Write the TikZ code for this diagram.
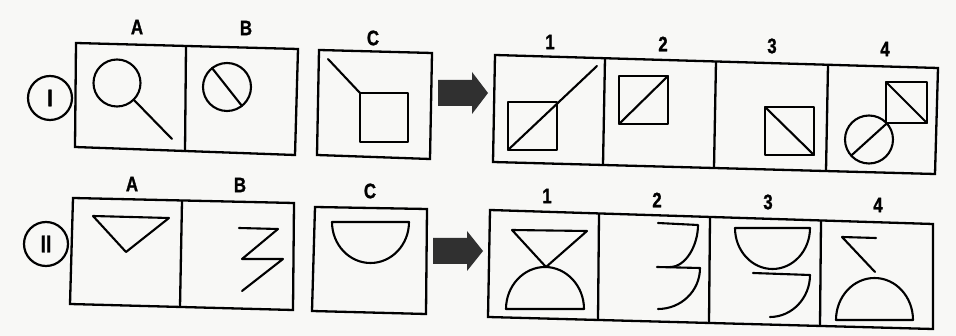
\documentclass[tikz,border=0pt]{standalone}
\usepackage{fontspec}
\newfontfamily\labfont[FakeStretch=0.8, BoldFeatures={FakeStretch=0.8, FakeBold=1.2}]{Liberation Sans}
\definecolor{paper}{RGB}{248,248,246}
\definecolor{arrowgray}{RGB}{48,48,48}
\begin{document}
\begin{tikzpicture}[x=1pt,y=-1pt,
  fig/.style={line width=2.1pt, line join=round, line cap=round},
  frame/.style={line width=2.3pt, line join=miter},
  lab/.style={font=\labfont\bfseries\fontsize{21}{21}\selectfont, inner sep=0pt},
  numcirc/.style={circle, draw, line width=2.2pt, minimum size=44pt, inner sep=0pt,
     font=\labfont\bfseries\fontsize{24}{24}\selectfont},
  bigarrow/.style={fill=arrowgray, draw=none}]
\fill[paper] (0,0) rectangle (956,336);
\useasboundingbox (0,0) rectangle (956,336);

% ---------- Row I ----------
\node[numcirc] (rI) at (50,98) {I};
\draw[frame] (76,43) -- (298,49) -- (295,155) -- (75,147) -- cycle;
\draw[frame] (186,46) -- (185,152);
\draw[frame] (319,50) -- (432,53) -- (430,159) -- (317,155) -- cycle;
\draw[frame] (495,55) -- (938,68) -- (935,174) -- (493,162) -- cycle;
\draw[frame] (605,58) -- (603,165);
\draw[frame] (716,61.5) -- (714,168);
\draw[frame] (828,65) -- (826,171);

\node[lab] (IA) at (137,27) {A};
\node[lab] (IB) at (246,28) {B};
\node[lab] (IC) at (373,38) {C};
\node[lab] (I1) at (550,42) {1};
\node[lab] (I2) at (663,44) {2};
\node[lab] (I3) at (772,46) {3};
\node[lab] (I4) at (885,49) {4};

% A
\draw[fig] (117,83) circle[radius=23.5];
\draw[fig] (133.6,99.6) -- (172,139);
% B
\draw[fig] (227,87) circle[radius=24];
\draw[fig] (212,68) -- (242,106);
% C
\draw[fig] (328,59) -- (360,93);
\draw[fig] (360,93) rectangle (408,142);
% arrow
\fill[bigarrow] (438,80) -- (472,80) -- (472,72) -- (488,93) -- (472,114) -- (472,106) -- (438,106) -- cycle;
% 1
\draw[fig] (508,102) rectangle (557,150);
\draw[fig] (508,150) -- (597,66);
% 2
\draw[fig] (619,76) rectangle (668,124);
\draw[fig] (619,124) -- (668,76);
% 3
\draw[fig] (765,107) rectangle (814,155);
\draw[fig] (765,107) -- (814,155);
% 4
\draw[fig] (886,82) rectangle (927,123);
\draw[fig] (886,82) -- (927,123);
\draw[fig] (869,139.5) circle[radius=24];
\draw[fig] (851.2,155.6) -- (886.8,123.4);

% ---------- Row II ----------
\node[numcirc] (rII) at (46,244) {II};
\draw[frame] (73,198) -- (294,203) -- (293,310) -- (70,304) -- cycle;
\draw[frame] (182,201) -- (180,307);
\draw[frame] (315,207) -- (427,209) -- (426,314) -- (312,311) -- cycle;
\draw[frame] (490,210) -- (933,224) -- (933,329) -- (488,317) -- cycle;
\draw[frame] (599,214) -- (598,320);
\draw[frame] (710,217) -- (709,323);
\draw[frame] (821,221) -- (820,326);

\node[lab] (IIA) at (132,184) {A};
\node[lab] (IIB) at (240,185) {B};
\node[lab] (IIC) at (370,191) {C};
\node[lab] (II1) at (547,196) {1};
\node[lab] (II2) at (657,200) {2};
\node[lab] (II3) at (768,202) {3};
\node[lab] (II4) at (878,205) {4};

% A
\draw[fig] (93,216) -- (169,218) -- (126,252) -- cycle;
% B
\draw[fig] (239,228) -- (278,229) -- (242,259) -- (283,259) -- (242,291);
% C
\draw[fig] (332,222) -- (409,222) .. controls +(0,22.6) and +(21.3,0) .. (370.5,263)
   .. controls +(-21.3,0) and +(0,22.6) .. (332,222) -- cycle;
% arrow
\fill[bigarrow] (433,238) -- (467,238) -- (467,231) -- (483,251) -- (467,271) -- (467,264) -- (433,264) -- cycle;
% 1
\draw[fig] (512,230) -- (587,231) -- (546,267) -- cycle;
\draw[fig] (506,309) .. controls +(0,-23.2) and +(-21.3,0) .. (545,267)
   .. controls +(21.3,0) and +(0,-23.2) .. (584,309) -- cycle;
% 2
\draw[fig] (658,223) -- (698,225) .. controls +(0,20) and +(16,0) .. (670,267);
\draw[fig] (657,267) -- (700,268) .. controls +(0,23) and +(23,0) .. (658,309);
% 3
\draw[fig] (735,228) -- (810,228) .. controls +(0,22.6) and +(20.7,0) .. (772.5,269)
   .. controls +(-20.7,0) and +(0,22.6) .. (735,228) -- cycle;
\draw[fig] (753,273) -- (810,275) .. controls +(0,23) and +(22,0) .. (770,317);
% 4
\draw[fig] (876,238) -- (842,237) -- (875,272);
\draw[fig] (836,320) .. controls +(0,-23.2) and +(-21.3,0) .. (874.5,278)
   .. controls +(21.3,0) and +(0,-23.2) .. (913,320) -- cycle;
\end{tikzpicture}
\end{document}
